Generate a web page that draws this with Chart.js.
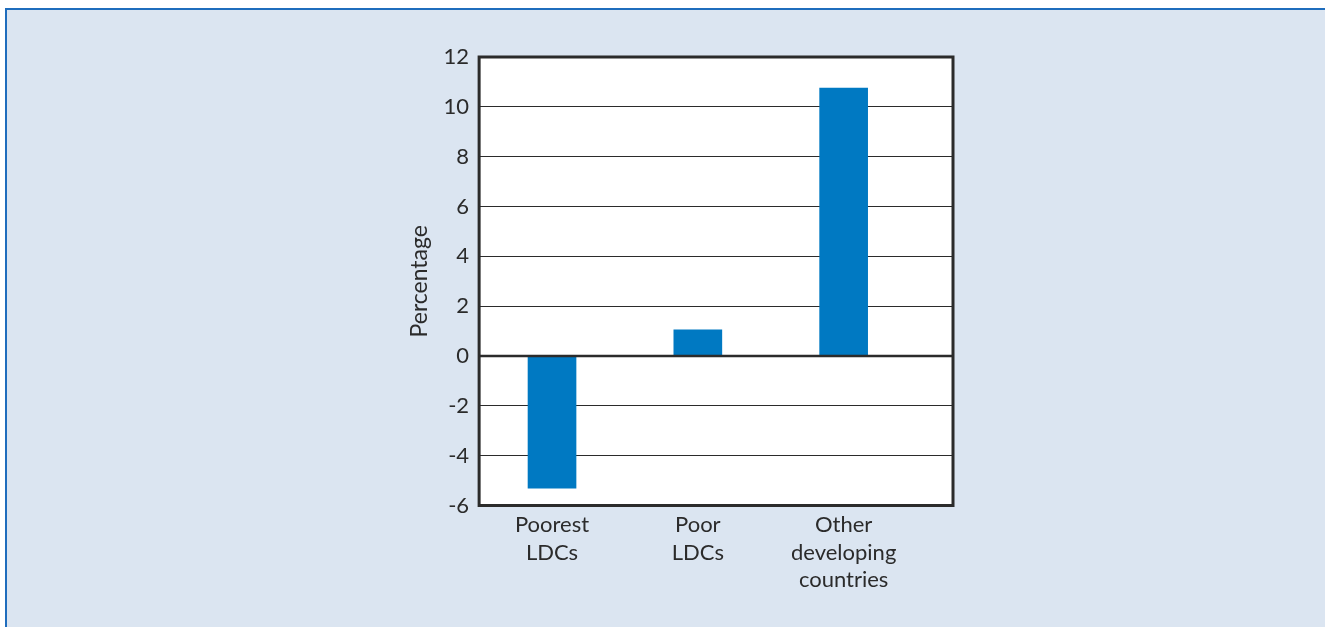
<!DOCTYPE html>
<html>
<head>
<meta charset="utf-8">
<script src="https://cdn.jsdelivr.net/npm/chart.js@4"></script>
<style>
  html, body { margin: 0; padding: 0; background: #ffffff; }
  #panel {
    position: absolute; left: 5px; top: 8px; width: 1330px; height: 630px;
    background: #dbe5f1; border-top: 2px solid #1f6dbd; border-left: 2px solid #1f6dbd;
  }
  #wrap { position: absolute; left: 0; top: 0; width: 1325px; height: 627px; }
</style>
</head>
<body>
<div id="panel"></div>
<div id="wrap"><canvas id="chart" width="1325" height="627"></canvas></div>
<script>
// categories and values (percent)
var categories = [["Poorest", "LDCs"], ["Poor", "LDCs"], ["Other", "developing", "countries"]];
var positions = [0, 1, 2];
var values = [-5.3, 1.05, 10.75];
var yTicks = [-6, -4, -2, 0, 2, 4, 6, 8, 10, 12];

var ink = '#2b2b2b';
var fontFamily = 'Lato, "Open Sans", sans-serif';

// frame round the plot area
var framePlugin = {
  id: 'frame',
  afterDatasetsDraw: function(chart) {
    var a = chart.chartArea, ctx = chart.ctx;
    ctx.save();
    ctx.strokeStyle = ink;
    ctx.lineWidth = 3;
    ctx.strokeRect(a.left, a.top, a.right - a.left, a.bottom - a.top);
    // zero line over the bars
    var y0 = chart.scales.y.getPixelForValue(0);
    ctx.lineWidth = 2.5;
    ctx.beginPath();
    ctx.moveTo(a.left, y0);
    ctx.lineTo(a.right, y0);
    ctx.stroke();
    ctx.restore();
  }
};

// white plot background
var bgPlugin = {
  id: 'plotbg',
  beforeDraw: function(chart) {
    var a = chart.chartArea, ctx = chart.ctx;
    ctx.save();
    ctx.fillStyle = '#ffffff';
    ctx.fillRect(a.left, a.top, a.right - a.left, a.bottom - a.top);
    ctx.restore();
  }
};

var data = positions.map(function(p, i) { return { x: p, y: values[i] }; });

new Chart(document.getElementById('chart'), {
  type: 'bar',
  data: {
    datasets: [{
      data: data,
      backgroundColor: '#0079c2',
      borderWidth: 0,
      barThickness: 48
    }]
  },
  options: {
    responsive: false,
    animation: false,
    layout: { padding: { left: 406, right: 372, top: 57, bottom: 27 } },
    plugins: { legend: { display: false }, tooltip: { enabled: false } },
    scales: {
      x: {
        type: 'linear',
        min: -0.5,
        max: 2.75,
        offset: false,
        grid: { display: false, drawTicks: false },
        border: { display: false },
        afterBuildTicks: function(axis) {
          axis.ticks = positions.map(function(p) { return { value: p }; });
        },
        ticks: {
          color: ink,
          font: { family: fontFamily, size: 22, lineHeight: 1.25 },
          padding: 6,
          maxRotation: 0,
          autoSkip: false,
          callback: function(v) { return categories[v]; }
        }
      },
      y: {
        min: -6,
        max: 12,
        afterBuildTicks: function(axis) {
          axis.ticks = yTicks.map(function(v) { return { value: v }; });
        },
        grid: { color: ink, lineWidth: 1, drawTicks: false },
        border: { display: false },
        ticks: {
          color: ink,
          font: { family: fontFamily, size: 22 },
          padding: 10
        },
        title: {
          display: true,
          text: 'Percentage',
          color: ink,
          font: { family: fontFamily, size: 23 },
          padding: { top: 0, bottom: 0 }
        }
      }
    }
  },
  plugins: [bgPlugin, framePlugin]
});
</script>
</body>
</html>
